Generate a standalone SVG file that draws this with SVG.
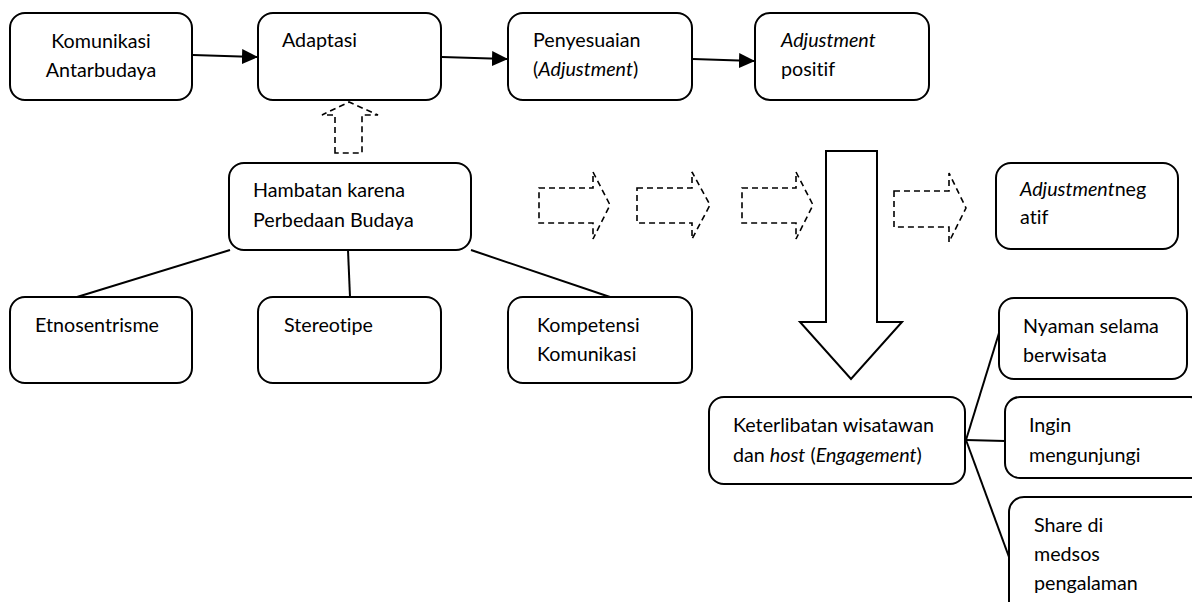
<svg xmlns="http://www.w3.org/2000/svg" width="1192" height="602" viewBox="0 0 1192 602">
<defs>
<style>
.box{fill:#fff;stroke:#000;stroke-width:2}
.t{font-family:Lato,"Liberation Sans",sans-serif;font-size:19.7px;fill:#000;font-variant-ligatures:none}
.i{font-style:italic}
.ln{stroke:#000;stroke-width:2;fill:none}
.dash{fill:none;stroke:#000;stroke-width:1.6;stroke-dasharray:6 4}
.big{fill:#fff;stroke:#000;stroke-width:2}
</style>
<marker id="ah" markerUnits="userSpaceOnUse" markerWidth="16" markerHeight="15" viewBox="0 0 16 15" refX="15" refY="7.5" orient="auto">
<path d="M0,0 L16,7.5 L0,15 Z" fill="#000"/>
</marker>
</defs>
<rect width="1192" height="602" fill="#fff"/>

<g id="connectors">
<line class="ln" x1="193" y1="55" x2="257" y2="57" marker-end="url(#ah)"/>
<line class="ln" x1="442" y1="57" x2="507" y2="59" marker-end="url(#ah)"/>
<line class="ln" x1="693" y1="59" x2="754" y2="61" marker-end="url(#ah)"/>
<line class="ln" x1="230" y1="250" x2="77" y2="297"/>
<line class="ln" x1="348" y1="250" x2="350" y2="297"/>
<line class="ln" x1="471" y1="250" x2="610" y2="297"/>
<line class="ln" x1="966" y1="440" x2="999" y2="333"/>
<line class="ln" x1="966" y1="440" x2="1005" y2="441"/>
<line class="ln" x1="966" y1="440" x2="1009" y2="557"/>
<path id="up-dashed" class="dash" d="M335,153 L335,115 L322,115 L349,102 L378,115 L362,115 L362,153 Z"/>
<path id="right-dashed-1" class="dash" d="M539,188 L593,188 L593,172 L610,205 L593,239 L593,223 L539,223 Z"/>
<path id="right-dashed-2" class="dash" d="M637,188 L692,188 L692,172 L710,205 L692,239 L692,223 L637,223 Z"/>
<path id="right-dashed-3" class="dash" d="M742,188 L796,188 L796,172 L813,205 L796,239 L796,223 L742,223 Z"/>
<path id="right-dashed-4" class="dash" d="M894,191 L949,191 L949,173 L966,208 L949,242 L949,227 L894,227 Z"/>
<path id="down-big" class="big" d="M826,151 L877,151 L877,322 L902,322 L851,379 L800,322 L826,322 Z"/>
</g>

<g id="komunikasi-antarbudaya">
<rect class="box" x="10" y="13" width="182" height="87" rx="15"/>
<text class="t" x="101" y="48" text-anchor="middle">Komunikasi</text>
<text class="t" x="101" y="77" text-anchor="middle">Antarbudaya</text>
</g>

<g id="adaptasi">
<rect class="box" x="258" y="13" width="183" height="87" rx="15"/>
<text class="t" x="282" y="47">Adaptasi</text>
</g>

<g id="penyesuaian">
<rect class="box" x="508" y="13" width="184" height="87" rx="15"/>
<text class="t" x="533" y="47">Penyesuaian</text>
<text class="t" x="533" y="76">(<tspan class="i">Adjustment</tspan>)</text>
</g>

<g id="adjustment-positif">
<rect class="box" x="755" y="13" width="174" height="87" rx="15"/>
<text class="t" x="781" y="47"><tspan class="i">Adjustment</tspan></text>
<text class="t" x="781" y="76">positif</text>
</g>

<g id="hambatan">
<rect class="box" x="229" y="163" width="242" height="87" rx="15"/>
<text class="t" x="253" y="197">Hambatan karena</text>
<text class="t" x="253" y="227">Perbedaan Budaya</text>
</g>

<g id="adjustment-negatif">
<rect class="box" x="996" y="163" width="182" height="86" rx="15"/>
<text class="t" x="1020" y="196"><tspan class="i">Adjustment</tspan>neg</text>
<text class="t" x="1020" y="224">atif</text>
</g>

<g id="etnosentrisme">
<rect class="box" x="10" y="297" width="182" height="86" rx="15"/>
<text class="t" x="35" y="332">Etnosentrisme</text>
</g>

<g id="stereotipe">
<rect class="box" x="258" y="297" width="183" height="86" rx="15"/>
<text class="t" x="284" y="332">Stereotipe</text>
</g>

<g id="kompetensi">
<rect class="box" x="508" y="297" width="184" height="86" rx="15"/>
<text class="t" x="537" y="332">Kompetensi</text>
<text class="t" x="537" y="361">Komunikasi</text>
</g>

<g id="keterlibatan">
<rect class="box" x="709" y="397" width="256" height="87" rx="15"/>
<text class="t" x="733" y="432">Keterlibatan wisatawan</text>
<text class="t" x="733" y="462">dan <tspan class="i">host</tspan> (<tspan class="i">Engagement</tspan>)</text>
</g>

<g id="nyaman">
<rect class="box" x="999" y="298" width="188" height="81" rx="15"/>
<text class="t" x="1023" y="333">Nyaman selama</text>
<text class="t" x="1023" y="362">berwisata</text>
</g>

<g id="ingin">
<rect class="box" x="1005" y="397" width="200" height="81" rx="15"/>
<text class="t" x="1029" y="432">Ingin</text>
<text class="t" x="1029" y="462">mengunjungi</text>
</g>

<g id="share">
<rect class="box" x="1009" y="497" width="200" height="130" rx="15"/>
<text class="t" x="1034" y="532">Share di</text>
<text class="t" x="1034" y="561">medsos</text>
<text class="t" x="1034" y="590">pengalaman</text>
</g>
</svg>
